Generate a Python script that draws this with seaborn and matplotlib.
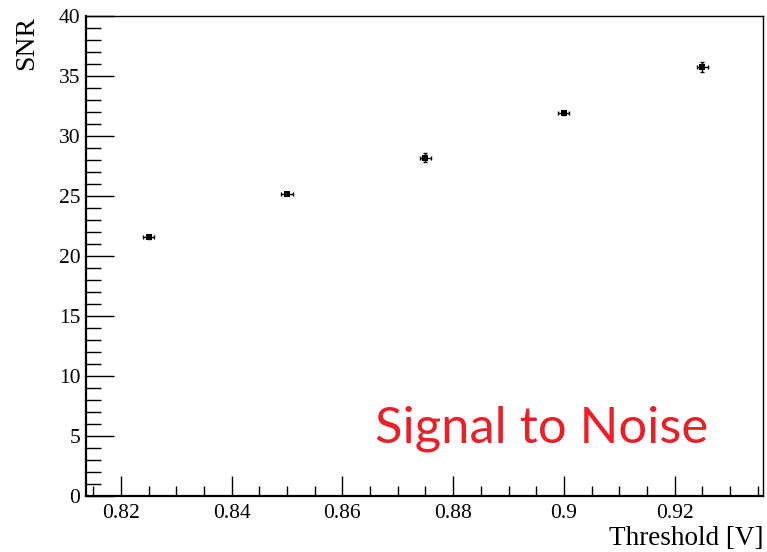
import matplotlib
matplotlib.use("Agg")
import matplotlib.pyplot as plt
from matplotlib.ticker import MultipleLocator, FuncFormatter
import seaborn as sns
import pandas as pd

# Measured signal-to-noise ratio versus discriminator threshold
threshold = [0.825, 0.850, 0.875, 0.900, 0.925]
snr = [21.55, 25.2, 28.2, 31.9, 35.75]
threshold_err = [0.001, 0.001, 0.001, 0.001, 0.001]
snr_err = [0.1, 0.1, 0.35, 0.12, 0.45]

df = pd.DataFrame({"Threshold [V]": threshold, "SNR": snr})

sns.set_style("ticks")
plt.rcParams["font.family"] = ["Liberation Serif", "DejaVu Serif"]
plt.rcParams["text.color"] = "black"
plt.rcParams["axes.labelcolor"] = "black"

fig = plt.figure(figsize=(7.67, 5.52), dpi=100)
ax = fig.add_axes([0.1121, 0.1014, 0.8831, 0.8696])

ax.errorbar(threshold, snr, xerr=threshold_err, yerr=snr_err, fmt="none",
            ecolor="black", elinewidth=1.0, capsize=1.6, capthick=1.0, zorder=2)
sns.scatterplot(data=df, x="Threshold [V]", y="SNR", ax=ax, marker="s",
                s=16, color="black", edgecolor="black", linewidth=0, zorder=3)

ax.set_xlim(0.8137, 0.9360)
ax.set_ylim(0, 40)

ax.xaxis.set_major_locator(MultipleLocator(0.02))
ax.xaxis.set_minor_locator(MultipleLocator(0.005))
ax.yaxis.set_major_locator(MultipleLocator(5))
ax.yaxis.set_minor_locator(MultipleLocator(1))
ax.xaxis.set_major_formatter(FuncFormatter(lambda v, p: f"{v:.2f}".rstrip("0").rstrip(".")))

ax.tick_params(which="both", direction="in", top=False, right=False,
               labelsize=15.5, width=1.0, colors="black")
ax.tick_params(axis="x", which="major", length=14.5, pad=6)
ax.tick_params(axis="x", which="minor", length=7)
ax.tick_params(axis="y", which="major", length=20.5, pad=4)
ax.tick_params(axis="y", which="minor", length=10.5)

for side in ["left", "right", "top", "bottom"]:
    ax.spines[side].set_visible(True)
    ax.spines[side].set_color("black")
ax.spines["left"].set_linewidth(1.6)
ax.spines["bottom"].set_linewidth(1.6)
ax.spines["top"].set_linewidth(1.0)
ax.spines["right"].set_linewidth(1.0)

ax.set_xlabel("Threshold [V]", fontsize=19.5, loc="right", labelpad=2)
ax.set_ylabel("SNR", fontsize=20, loc="top", labelpad=14)

ax.text(0.8960, 4.45, "Signal to Noise", color="#e8202a", fontsize=36.5,
        family=["Lato", "DejaVu Sans"], fontweight="normal",
        ha="center", va="baseline")

fig.savefig("out.png", dpi=100)
